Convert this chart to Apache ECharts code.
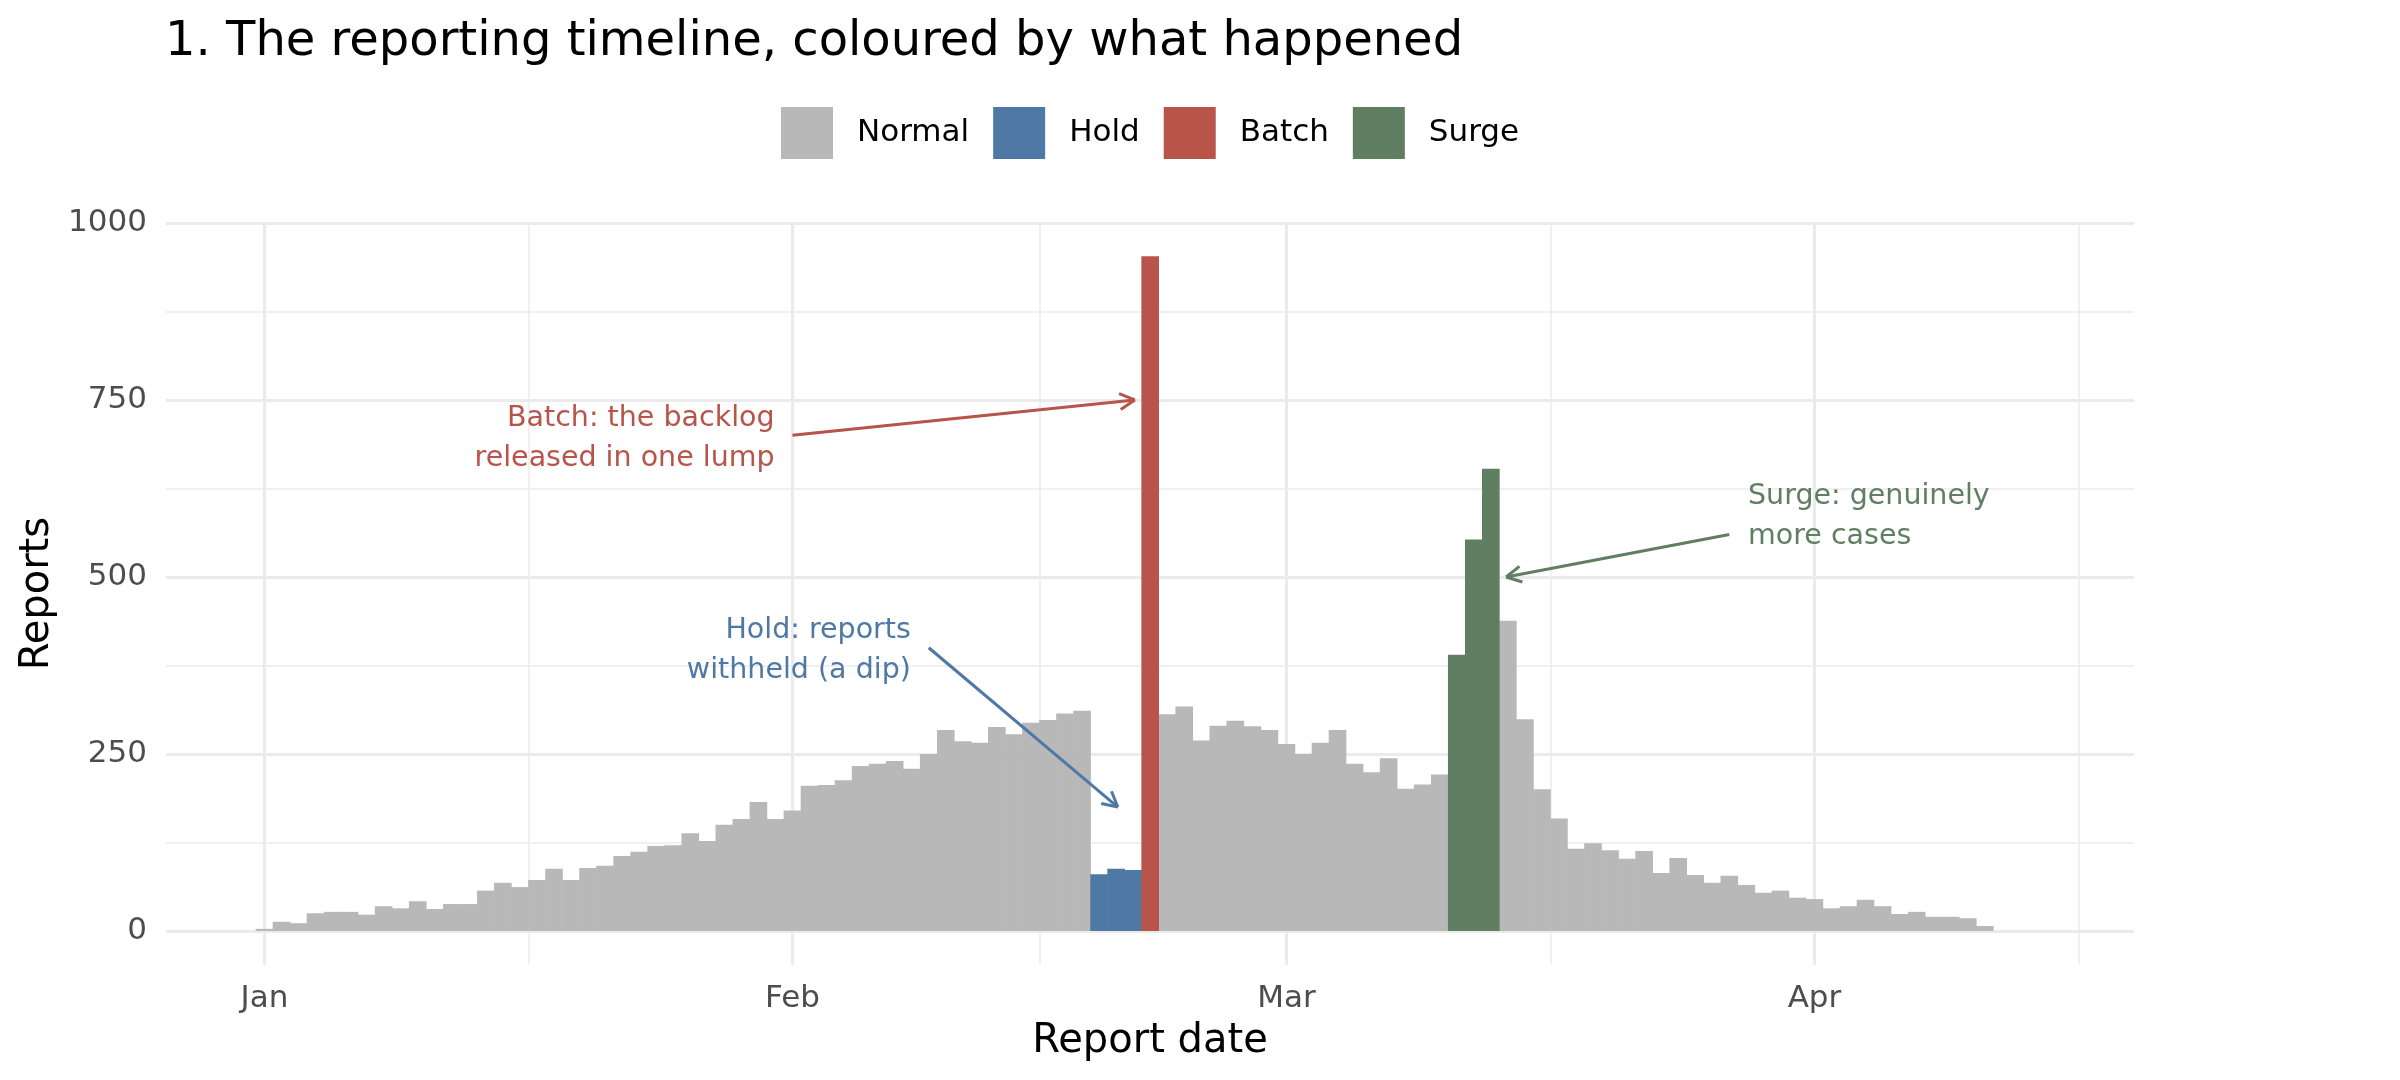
<!DOCTYPE html>
<html lang="en">
<head>
<meta charset="UTF-8">
<title>Reporting timeline</title>
<style>
    html, body { margin: 0; padding: 0; background: #fff; }
    #chart { width: 2400px; height: 1080px; }
</style>
</head>
<body>
<div id="chart"></div>
<script src="https://cdn.jsdelivr.net/npm/echarts@6/dist/echarts.min.js"></script>
<script>
// daily report counts, 2024-01-01 .. 2024-04-11
var startDate = '2024-01-01';
var reports = [
    3, 13, 11, 25, 27, 27, 23, 35, 32, 42, 31, 38, 38, 57, 68, 62, 72, 88, 72, 89,
    92, 106, 112, 120, 121, 138, 127, 150, 158, 182, 158,
    170, 205, 206, 213, 233, 236, 240, 229, 250, 284, 268, 266, 288, 278, 294,
    298, 307, 311, 80, 88, 86, 953, 306, 317, 269, 290, 297, 289, 284,
    264, 250, 266, 284, 236, 224, 244, 201, 207, 221, 390, 553, 653, 438, 299,
    200, 159, 116, 124, 114, 102, 113, 82, 103, 79, 68, 78, 65, 54, 57, 47,
    45, 32, 35, 44, 35, 24, 27, 20, 20, 18, 7
];
var holdDates = ['2024-02-19', '2024-02-20', '2024-02-21'];
var batchDates = ['2024-02-22'];
var surgeDates = ['2024-03-11', '2024-03-12', '2024-03-13'];
var seriesNames = ['Normal', 'Hold', 'Batch', 'Surge'];
var monthDates = ['2024-01-01', '2024-02-01', '2024-03-01', '2024-04-01'];
var monthLabels = ['Jan', 'Feb', 'Mar', 'Apr'];
var yTicks = [0, 250, 500, 750, 1000];

var colors = { Normal: '#b8b8b8', Hold: '#4e79a5', Batch: '#b8544a', Surge: '#607e61' };
var font = 'DejaVu Sans';

function dayOf(s) {
    return (Date.parse(s) - Date.parse(startDate)) / 86400000;
}
function dateOf(i) {
    return new Date(Date.parse(startDate) + i * 86400000).toISOString().slice(0, 10);
}

var data = { Normal: [], Hold: [], Batch: [], Surge: [] };
reports.forEach(function (v, i) {
    var d = dateOf(i);
    var k = 'Normal';
    if (holdDates.indexOf(d) >= 0) k = 'Hold';
    else if (batchDates.indexOf(d) >= 0) k = 'Batch';
    else if (surgeDates.indexOf(d) >= 0) k = 'Surge';
    data[k].push([i, v]);
});

// axis ranges (ggplot style 5% padding)
var xMin = -5.78, xMax = 109.76;
var yMax = Math.max.apply(null, reports);
var yMin = -0.05 * yMax;
yMax = 1.05 * yMax;

var monthDays = monthDates.map(dayOf);
var step = monthDays[1] - monthDays[0];
var ext = monthDays.concat([monthDays[monthDays.length - 1] + step]);
var xMinor = [];
for (var i = 1; i < ext.length; i++) xMinor.push((ext[i - 1] + ext[i]) / 2);
var yMinor = [];
for (var j = 1; j < yTicks.length; j++) yMinor.push((yTicks[j - 1] + yTicks[j]) / 2);

var gridL = 166, gridR = 266, gridT = 222.5, gridB = 115.3;
var dayPx = (2400 - gridL - gridR) / (xMax - xMin);
var unitPx = (1080 - gridT - gridB) / (yMax - yMin);

var gridLines = [];
monthDays.forEach(function (d) { gridLines.push({ xAxis: d, lineStyle: { width: 3 } }); });
xMinor.forEach(function (d) { gridLines.push({ xAxis: d, lineStyle: { width: 1.5 } }); });
yTicks.forEach(function (v) { gridLines.push({ yAxis: v, lineStyle: { width: 3 } }); });
yMinor.forEach(function (v) { gridLines.push({ yAxis: v, lineStyle: { width: 1.5 } }); });

var arrows = [
    { from: [31.0, 700], to: [51.1, 750], key: 'Batch' },
    { from: [39.0, 400], to: [50.1, 175], key: 'Hold' },
    { from: [86.0, 560], to: [72.9, 500], key: 'Surge' }
];
var notes = [
    { at: [29.95, 700], text: 'Batch: the backlog\nreleased in one lump', key: 'Batch', pos: 'left' },
    { at: [37.95, 400], text: 'Hold: reports\nwithheld (a dip)', key: 'Hold', pos: 'left' },
    { at: [87.1, 590], text: 'Surge: genuinely\nmore cases', key: 'Surge', pos: 'right' }
];

// open arrow head: two short strokes back from the tip
function arrowSegments(a) {
    var style = { color: colors[a.key], width: 3, type: 'solid' };
    var segs = [[{ coord: a.from, lineStyle: style }, { coord: a.to }]];
    var vx = (a.from[0] - a.to[0]) * dayPx, vy = (a.from[1] - a.to[1]) * unitPx;
    var len = Math.sqrt(vx * vx + vy * vy);
    vx /= len; vy /= len;
    var L = 17, ang = 28 * Math.PI / 180;
    [-ang, ang].forEach(function (t) {
        var wx = (vx * Math.cos(t) - vy * Math.sin(t)) * L;
        var wy = (vx * Math.sin(t) + vy * Math.cos(t)) * L;
        segs.push([
            { coord: a.to, lineStyle: style },
            { coord: [a.to[0] + wx / dayPx, a.to[1] + wy / unitPx] }
        ]);
    });
    return segs;
}
var arrowData = [];
arrows.forEach(function (a) { arrowData = arrowData.concat(arrowSegments(a)); });

var series = seriesNames.map(function (name) {
    return {
        name: name,
        type: 'bar',
        data: data[name],
        barWidth: dayPx + 0.6,
        barGap: '-100%',
        itemStyle: { color: colors[name] },
        emphasis: { disabled: true },
        z: 2
    };
});

series.push({
    type: 'line',
    data: [],
    silent: true,
    markLine: {
        silent: true,
        z: 1,
        symbol: 'none',
        label: { show: false },
        lineStyle: { color: '#ebebeb', type: 'solid' },
        emphasis: { disabled: true },
        data: gridLines
    }
});

series.push({
    type: 'line',
    data: [],
    silent: true,
    markLine: {
        silent: true,
        z: 5,
        symbol: 'none',
        label: { show: false },
        emphasis: { disabled: true },
        data: arrowData
    },
    markPoint: {
        silent: true,
        symbol: 'circle',
        symbolSize: 0,
        data: notes.map(function (n) {
            return {
                coord: n.at,
                itemStyle: { color: 'rgba(0,0,0,0)' },
                label: {
                    show: true,
                    position: n.pos,
                    distance: 0,
                    offset: [0, 3],
                    formatter: n.text,
                    color: colors[n.key],
                    fontSize: 28.5,
                    lineHeight: 40,
                    fontFamily: font
                }
            };
        })
    }
});

var chart = echarts.init(document.getElementById('chart'));
chart.setOption({
    animation: false,
    backgroundColor: '#ffffff',
    textStyle: { fontFamily: font },
    title: {
        text: '1. The reporting timeline, coloured by what happened',
        left: 165,
        top: 19,
        padding: 0,
        textStyle: { fontSize: 48, fontWeight: 'normal', color: '#000', lineHeight: 48, fontFamily: font }
    },
    legend: {
        data: seriesNames,
        left: 781,
        top: 107,
        padding: 0,
        icon: 'rect',
        itemWidth: 52,
        itemHeight: 52,
        itemGap: 24,
        selectedMode: false,
        textStyle: { fontSize: 31, color: '#000', padding: [10, 0, 0, 19], fontFamily: font }
    },
    grid: { left: gridL, right: gridR, top: gridT, bottom: gridB, containLabel: false },
    xAxis: {
        type: 'value',
        min: xMin,
        max: xMax,
        axisLine: { show: false },
        axisTick: { show: false },
        splitLine: { show: false },
        axisLabel: {
            customValues: monthDays,
            formatter: function (v) {
                var k = monthDays.indexOf(v);
                return k >= 0 ? monthLabels[k] : '';
            },
            fontSize: 31,
            lineHeight: 31,
            color: '#4d4d4d',
            margin: 19,
            fontFamily: font
        },
        name: 'Report date',
        nameLocation: 'middle',
        nameGap: 57,
        nameTextStyle: { fontSize: 40, lineHeight: 40, color: '#000', fontFamily: font }
    },
    yAxis: {
        type: 'value',
        min: yMin,
        max: yMax,
        axisLine: { show: false },
        axisTick: { show: false },
        splitLine: { show: false },
        axisLabel: {
            customValues: yTicks,
            formatter: function (v) { return String(v); },
            fontSize: 31,
            color: '#4d4d4d',
            margin: 19,
            padding: [10, 0, 0, 0],
            fontFamily: font
        },
        name: 'Reports',
        nameLocation: 'middle',
        nameGap: 107,
        nameRotate: 90,
        nameTextStyle: { fontSize: 40, lineHeight: 40, color: '#000', fontFamily: font }
    },
    series: series
});
</script>
</body>
</html>
